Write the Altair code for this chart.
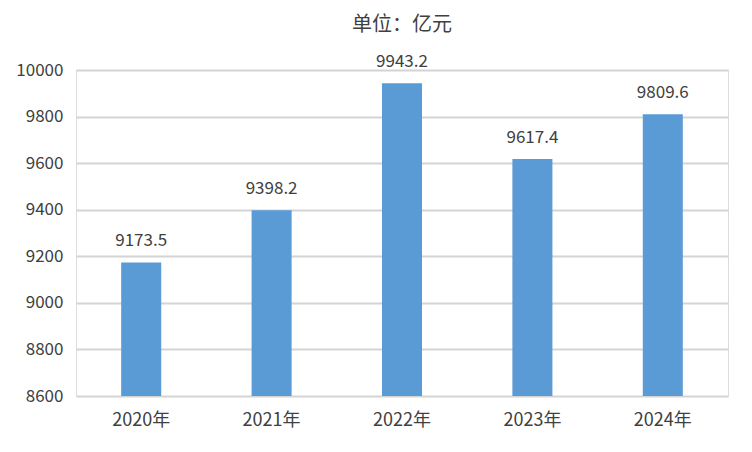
import altair as alt
import pandas as pd

years = ["2020年", "2021年", "2022年", "2023年", "2024年"]
values = [9173.5, 9398.2, 9943.2, 9617.4, 9809.6]
y_ticks = [8600, 8800, 9000, 9200, 9400, 9600, 9800, 10000]

df = pd.DataFrame({"year": years, "value": values})
df["label"] = [f"{v:.1f}" for v in values]

FONT = "Noto Sans CJK SC"
TXT = "#404040"

x = alt.X("year:N", sort=years, title=None,
          scale=alt.Scale(paddingInner=0.693, paddingOuter=0.3465),
          axis=alt.Axis(labelAngle=0, domain=False, ticks=False, labelFontSize=18,
                        labelColor=TXT, labelFont=FONT, labelPadding=15))
y = alt.Y("value:Q", title=None,
          scale=alt.Scale(domain=[8600, 10000], zero=False, nice=False),
          axis=alt.Axis(values=y_ticks, format="d", domain=False, ticks=False,
                        labelFontSize=17, labelColor=TXT, labelFont=FONT,
                        labelPadding=13, gridColor="#d4d4d4", gridWidth=2))

bars = alt.Chart(df).mark_bar(color="#5b9bd5", clip=True).encode(x=x, y=y)
labels = alt.Chart(df).mark_text(baseline="alphabetic", dy=-16, fontSize=17,
                                 color=TXT, font=FONT).encode(
    x=alt.X("year:N", sort=years), y="value:Q", text="label:N")

chart = (bars + labels).properties(
    width=652, height=326,
    title=alt.TitleParams("单位：亿元", fontSize=20, font=FONT, color=TXT,
                          fontWeight="normal", anchor="middle", offset=18),
    autosize=alt.AutoSizeParams(type="none"),
    padding={"left": 68, "top": 62, "right": 16, "bottom": 48},
).configure_view(stroke=None).configure(background="white")

chart.save("out.html", embed_options={"renderer": "svg", "actions": False})
